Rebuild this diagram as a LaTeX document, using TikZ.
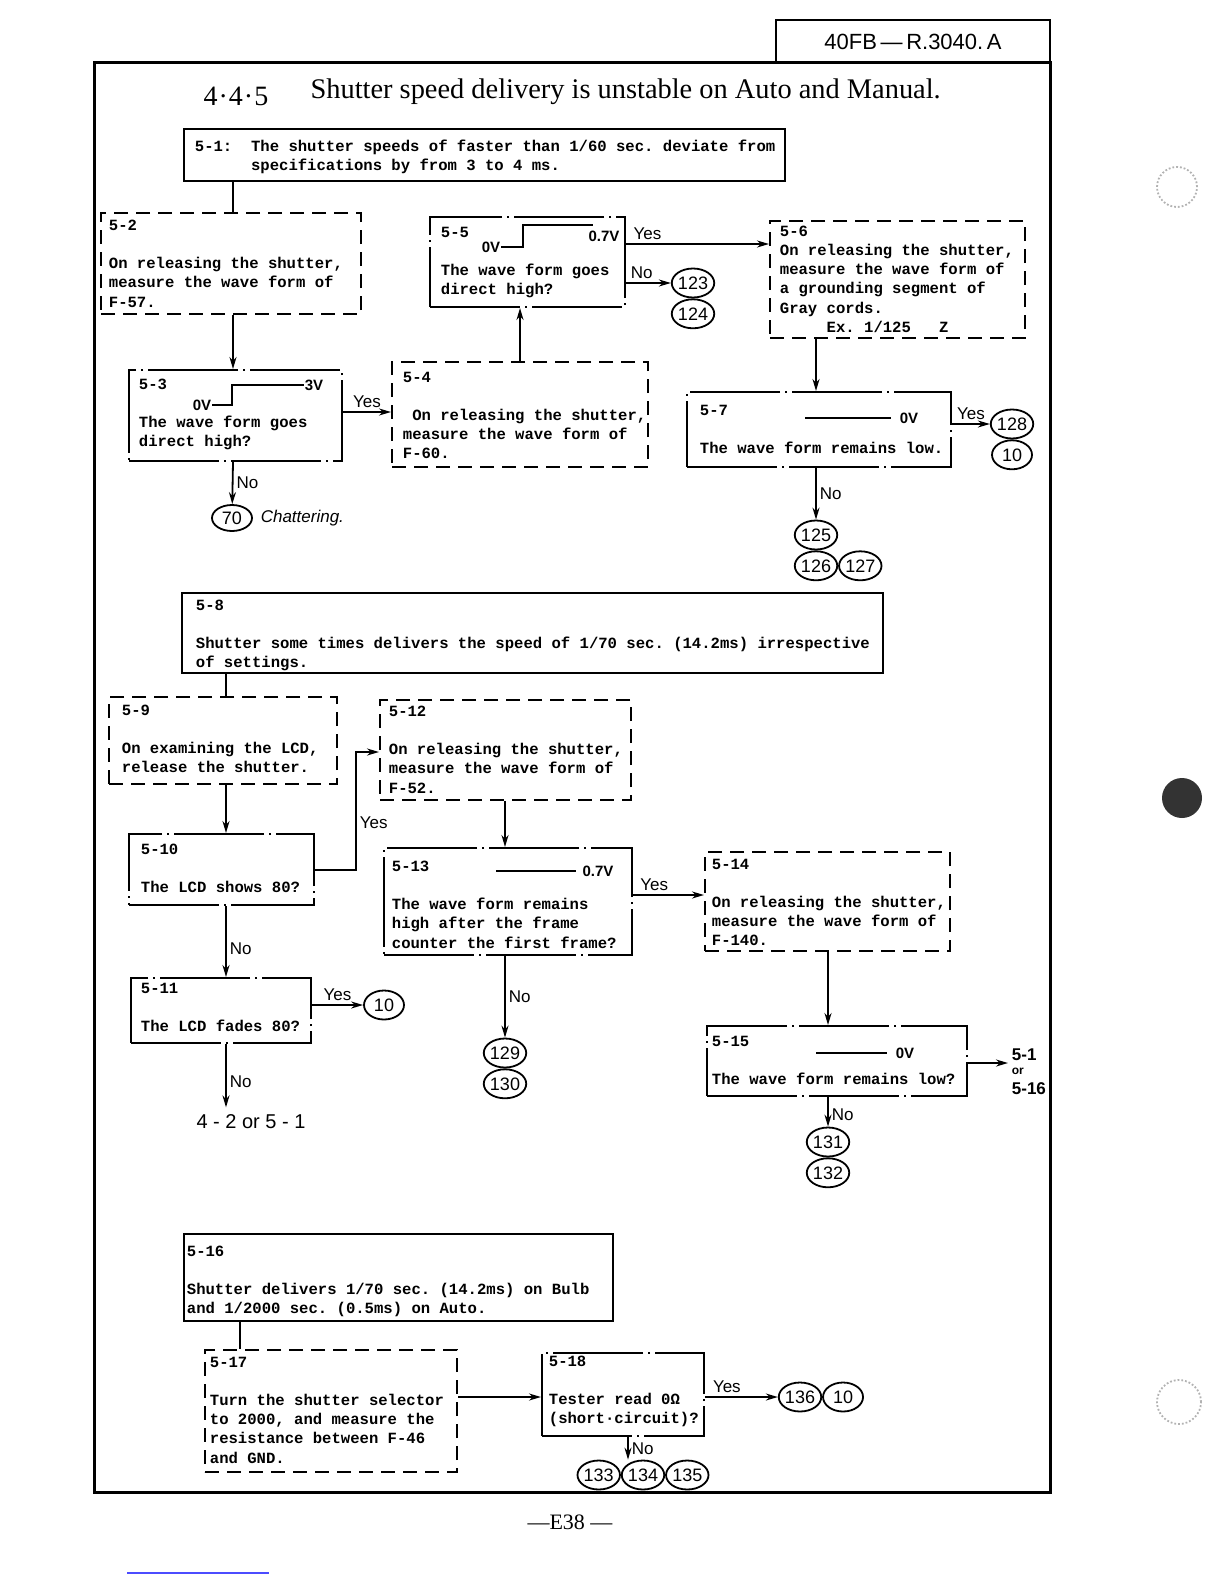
\documentclass[tikz,border=0pt]{standalone}
\usepackage{fontspec}
\setmainfont{Liberation Serif}
\newfontfamily\monofont{Liberation Mono}
\newfontfamily\handfont{Liberation Sans}
\usetikzlibrary{positioning,fit,shapes.geometric,arrows.meta}
\frenchspacing

\tikzset{
  sbox/.style={draw, line width=1.2pt, inner sep=0pt},
  dbox/.style={draw, line width=1pt, dash pattern=on 7pt off 4pt, inner sep=0pt},
  ddbox/.style={draw, line width=1pt, dash pattern=on 45pt off 2.5pt on 1pt off 2.5pt, inner sep=0pt},
  txt/.style={font=\monofont\bfseries\fontsize{7.8}{9.6}\selectfont, align=left, inner sep=0pt, anchor=north west, execute at begin node=\strut},
  lab/.style={font=\handfont\fontsize{8.5}{9}\selectfont, inner sep=1.5pt},
  num/.style={draw, ellipse, line width=0.9pt, minimum width=20pt, minimum height=14.5pt, inner sep=0pt, font=\handfont\fontsize{9}{9}\selectfont},
  volt/.style={font=\handfont\bfseries\fontsize{7.5}{8}\selectfont, inner sep=0pt}
}

\begin{document}
\begin{tikzpicture}[x=0.5pt, y=-0.5pt, >={Stealth[length=6pt,width=3.5pt]}, line width=0.9pt]
\useasboundingbox (0,0) rectangle (1224,1584);

% header and frame
\node[draw, line width=1pt, inner sep=0pt, fit={(776,20) (1050,63)}] (hdr) {};
\node[font=\handfont\fontsize{11}{12}\selectfont] (hdrtxt) at (hdr) {40FB\,—\,R.3040.\,A};
\node[sbox, line width=1.5pt, fit={(94,63) (1050,1492)}] (frame) {};
\node[font=\fontsize{14}{16}\selectfont] (secnum) at (236,96) {4\kern0.5pt·\kern0.5pt4\kern0.5pt·\kern0.5pt5};
\node[font=\fontsize{14.2}{16}\selectfont, anchor=west] (title) at (303,92) {Shutter speed delivery is unstable on Auto and Manual.};

% columns and rows for the connectors
\coordinate (xa) at (233,0);
\coordinate (xb) at (520,0);
\coordinate (xc) at (816,0);
\coordinate (xd) at (226,0);
\coordinate (xe) at (505,0);
\coordinate (xf) at (828,0);
\coordinate (xg) at (240,0);
\coordinate (xh) at (628,0);
\coordinate (ya) at (0,412);
\coordinate (yb) at (0,244);
\coordinate (yc) at (0,870);
\coordinate (yd) at (0,895);
\coordinate (ye) at (0,1063);
\coordinate (yf) at (0,1397);
\coordinate (yes10) at (356,752);

% boxes
\node[sbox, fit={(184,129) (785,181)}] (s1) {};
\node[txt] (t1) at (194,139) {5-1:~~The shutter speeds of faster than 1/60 sec. deviate from\\\hphantom{5-1:~~}specifications by from 3 to 4 ms.};

\node[dbox, fit={(101,213) (361,314)}] (s2) {};
\node[txt] (t2) at (108,219) {5-2\\[9.6pt]On releasing the shutter,\\measure the wave form of\\F-57.};

\node[ddbox, fit={(129,370) (342,461)}] (s3) {};
\node[txt] (t3) at (138,378) {5-3\\[9.6pt]The wave form goes\\direct high?};
\node[volt] (v3lo) at (202,405) {0V};
\node[volt] (v3hi) at (314,385) {3V};
\draw (v3lo.east) -- ++(20,0) |- (v3hi.west);

\node[dbox, fit={(392,362) (648,467)}] (s4) {};
\node[txt] (t4) at (402,371) {5-4\\[9.6pt]~On releasing the shutter,\\measure the wave form of\\F-60.};

\node[ddbox, fit={(430,217) (625,307)}] (s5) {};
\node[txt] (t5) at (440,226) {5-5\\[9.6pt]The wave form goes\\direct high?};
\node[volt] (v5lo) at (491,247) {0V};
\node[volt] (v5hi) at (604,236) {0.7V};
\draw (v5lo.east) -- ++(22,0) -- ++(0,-22) -- ++(70,0);

\node[dbox, fit={(770,221) (1025,338)}] (s6) {};
\node[txt] (t6) at (779,225) {5-6\\On releasing the shutter,\\measure the wave form of\\a grounding segment of\\Gray cords.\\~~~~~Ex.~1/125~~~Z};

\node[ddbox, fit={(687,392) (951,467)}] (s7) {};
\node[txt] (t7) at (699,404) {5-7\\[9.6pt]The wave form remains low.};
\node[volt] (v7) at (909,418) {0V};
\draw ([xshift=-4pt]v7.west) -- ++(-86,0);

\node[sbox, fit={(182,593) (883,673)}] (s8) {};
\node[txt] (t8) at (195,599) {5-8\\[9.6pt]Shutter some times delivers the speed of 1/70 sec. (14.2ms) irrespective\\of settings.};

\node[dbox, fit={(109,697) (337,784)}] (s9) {};
\node[txt] (t9) at (121,704) {5-9\\[9.6pt]On examining the LCD,\\release the shutter.};

\node[ddbox, fit={(129,834) (314,905)}] (s10) {};
\node[txt] (t10) at (140,843) {5-10\\[9.6pt]The LCD shows 80?};

\node[ddbox, fit={(131,978) (311,1043)}] (s11) {};
\node[txt] (t11) at (140,982) {5-11\\[9.6pt]The LCD fades 80?};

\node[dbox, fit={(380,700) (631,800)}] (s12) {};
\node[txt] (t12) at (388,705) {5-12\\[9.6pt]On releasing the shutter,\\measure the wave form of\\F-52.};

\node[ddbox, fit={(384,848) (632,955)}] (s13) {};
\node[txt] (t13) at (391,860) {5-13\\[9.6pt]The wave form remains\\high after the frame\\counter the first frame?};
\node[volt] (v13) at (598,871) {0.7V};
\draw ([xshift=-3pt]v13.west) -- ++(-80,0);

\node[dbox, fit={(705,852) (950,951)}] (s14) {};
\node[txt] (t14) at (711,858) {5-14\\[9.6pt]On releasing the shutter,\\measure the wave form of\\F-140.};

\node[ddbox, fit={(707,1026) (967,1096)}] (s15) {};
\node[txt] (t15) at (711,1035) {5-15\\[9.6pt]The wave form remains low?};
\node[volt] (v15) at (905,1053) {0V};
\draw ([xshift=-4pt]v15.west) -- ++(-71,0);

\node[sbox, fit={(184,1234) (613,1321)}] (s16) {};
\node[txt] (t16) at (186,1245) {5-16\\[9.6pt]Shutter delivers 1/70 sec. (14.2ms) on Bulb\\and 1/2000 sec. (0.5ms) on Auto.};

\node[dbox, fit={(205,1350) (457,1472)}] (s17) {};
\node[txt] (t17) at (209,1356) {5-17\\[9.6pt]Turn the shutter selector\\to 2000, and measure the\\resistance between F-46\\and GND.};

\node[ddbox, fit={(542,1353) (704,1436)}] (s18) {};
\node[txt] (t18) at (548,1355) {5-18\\[9.6pt]Tester read 0Ω\\(short·circuit)?};

% circled references
\node[num] (c123) at (693,283) {123};
\node[num, below=0pt of c123] (c124) {124};
\node[num] (c128) at (1012,424) {128};
\node[num, below=0pt of c128] (c10b) {10};
\node[num] (c125) at (816,535) {125};
\node[num, below=0pt of c125] (c126) {126};
\node[num, right=0pt of c126] (c127) {127};
\node[num, minimum height=13pt] (c70) at (232,518) {70};
\node[lab, right=2pt of c70, font=\handfont\itshape\fontsize{8.5}{9}\selectfont] (chat) {Chattering.};
\node[num] (c10a) at (384,1005) {10};
\node[num] (c129) at (505,1053) {129};
\node[num, below=0pt of c129] (c130) {130};
\node[num] (c131) at (828,1142) {131};
\node[num, below=0pt of c131] (c132) {132};
\node[num] (c136) at (800,1397) {136};
\node[num, right=0pt of c136] (c10c) {10};
\node[num] (c134) at (643,1475) {134};
\node[num, left=0pt of c134] (c133) {133};
\node[num, right=0pt of c134] (c135) {135};

\node[font=\handfont\fontsize{10}{11}\selectfont] (n42) at (251,1122) {4 - 2 or 5 - 1};
\node[lab, font=\handfont\bfseries\fontsize{8.5}{10}\selectfont, align=left, anchor=west] (n516) at (1008,1072) {5-1\\[-3pt]{\fontsize{6}{6}\selectfont or}\\5-16};

% connectors
\draw (s1.south -| xa) -- (s2.north -| xa);
\draw[->] (s2.south -| xa) -- (s3.north -| xa);
\draw[->] (s3.east |- ya) -- node[lab, above] {Yes} (s4.west |- ya);
\draw[->] (s3.south -| xa) -- node[lab, right] {No} (c70);
\draw[->] (s4.north -| xb) -- (s5.south -| xb);
\draw[->] (s5.east |- yb) -- node[lab, above, pos=0.15] {Yes} (s6.west |- yb);
\draw[->] (s5.east |- c123) -- node[lab, above, pos=0.35] {No} (c123);
\draw[->] (s6.south -| xc) -- (s7.north -| xc);
\draw[->] (s7.east |- c128) -- node[lab, above] {Yes} (c128);
\draw[->] (s7.south -| xc) -- node[lab, right] {No} (c125);

\draw (s8.south -| xd) -- (s9.north -| xd);
\draw[->] (s9.south -| xd) -- (s10.north -| xd);
\draw[->] (s10.south -| xd) -- node[lab, right, pos=0.6] {No} (s11.north -| xd);
\draw[->] (s11.south -| xd) -- node[lab, right, pos=0.6] {No} (n42.north -| xd);
\draw[->] (s10.east |- yc) -| node[lab, right, pos=0.7] {Yes} (yes10) -- (s12.west |- yes10);
\draw[->] (s11.east |- c10a) -- node[lab, above] {Yes} (c10a);
\draw[->] (s12.south -| xe) -- (s13.north -| xe);
\draw[->] (s13.east |- yd) -- node[lab, above, pos=0.3] {Yes} (s14.west |- yd);
\draw[->] (s13.south -| xe) -- node[lab, right] {No} (c129);
\draw[->] (s14.south -| xf) -- (s15.north -| xf);
\draw[->] (s15.east |- ye) -- (n516.west |- ye);
\draw[->] (s15.south -| xf) -- node[lab, right, pos=0.6] {No} (c131);

\draw (s16.south -| xg) -- (s17.north -| xg);
\draw[->] (s17.east |- yf) -- (s18.west |- yf);
\draw[->] (s18.east |- c136) -- node[lab, above, pos=0.3] {Yes} (c136);
\draw[->] (s18.south -| xh) -- node[lab, right] {No} (c134.north -| xh);

% page foot and scan marks
\node[font=\fontsize{11}{12}\selectfont] (pg) at (570,1522) {—E38 —};
\draw[blue!70, line width=0.6pt] (127,1573) -- (269,1573);
\draw[gray!60, densely dotted] (1177,187) circle (10pt);
\fill[black!80] (1182,798) circle (10pt);
\draw[gray!60, densely dotted] (1179,1402) circle (11pt);
\end{tikzpicture}
\end{document}
